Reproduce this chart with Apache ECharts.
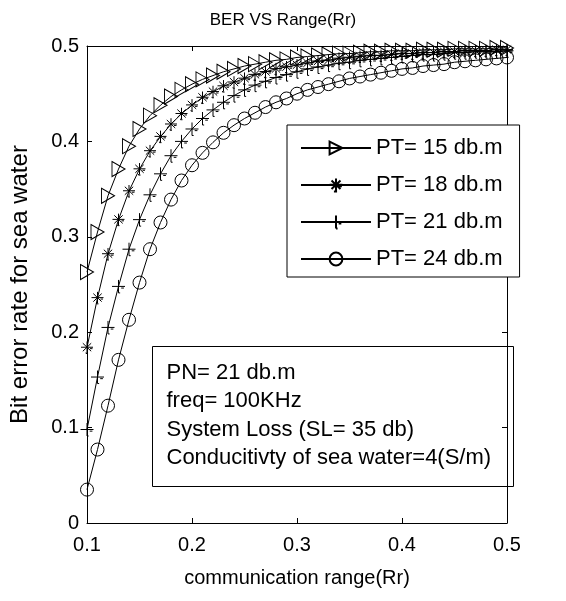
<!DOCTYPE html>
<html>
<head>
<meta charset="utf-8">
<script src="https://cdn.jsdelivr.net/npm/echarts@6/dist/echarts.min.js"></script>
<style>
html,body{margin:0;padding:0;background:#fff;}
#c{width:566px;height:601px;}
</style>
</head>
<body>
<div id="c"></div>
<script>
// ---- data ----
const ranges = [0.10,0.11,0.12,0.13,0.14,0.15,0.16,0.17,0.18,0.19,0.20,0.21,0.22,0.23,0.24,0.25,0.26,0.27,0.28,0.29,0.30,0.31,0.32,0.33,0.34,0.35,0.36,0.37,0.38,0.39,0.40,0.41,0.42,0.43,0.44,0.45,0.46,0.47,0.48,0.49,0.50];
const ber15 = [0.263,0.305,0.343,0.371,0.395,0.413,0.427,0.438,0.447,0.454,0.460,0.465,0.469,0.473,0.476,0.479,0.481,0.483,0.485,0.486,0.488,0.489,0.490,0.491,0.492,0.492,0.493,0.494,0.494,0.495,0.495,0.495,0.496,0.496,0.496,0.497,0.497,0.497,0.497,0.498,0.498];
const ber18 = [0.184,0.236,0.282,0.318,0.348,0.371,0.390,0.405,0.418,0.429,0.438,0.446,0.452,0.458,0.462,0.466,0.470,0.473,0.476,0.478,0.480,0.482,0.484,0.485,0.487,0.488,0.489,0.490,0.490,0.491,0.492,0.492,0.493,0.493,0.494,0.494,0.495,0.495,0.495,0.496,0.496];
const ber21 = [0.098,0.153,0.205,0.248,0.287,0.318,0.344,0.366,0.385,0.400,0.413,0.424,0.433,0.441,0.448,0.454,0.459,0.463,0.467,0.470,0.473,0.476,0.478,0.480,0.482,0.483,0.485,0.486,0.487,0.488,0.489,0.490,0.491,0.491,0.492,0.493,0.493,0.494,0.494,0.494,0.495];
const ber24 = [0.035,0.077,0.123,0.171,0.213,0.252,0.287,0.315,0.339,0.359,0.375,0.388,0.399,0.409,0.417,0.424,0.430,0.436,0.441,0.445,0.450,0.454,0.457,0.460,0.463,0.466,0.468,0.470,0.472,0.474,0.476,0.477,0.479,0.480,0.481,0.483,0.484,0.485,0.486,0.487,0.488];
const seriesNames = ['PT= 15 db.m','PT= 18 db.m','PT= 21 db.m','PT= 24 db.m'];
const xTicks = [0.1,0.2,0.3,0.4,0.5];
const yTicks = [0,0.1,0.2,0.3,0.4,0.5];
const noteLines = ['PN= 21 db.m','freq= 100KHz','System Loss (SL= 35 db)','Conducitivty of sea water=4(S/m)'];
const titleText = 'BER VS Range(Rr)';
const xLabel = 'communication range(Rr)';
const yLabel = 'Bit error rate for sea water';

// ---- chart ----
const FONT = 'Liberation Sans, Arial, Helvetica, sans-serif';
const symbols = [
  'path://M0,0L11,6.5L0,13Z',
  'path://M8,2L8,14M2,8L14,8M3.8,3.8L12.2,12.2M3.8,12.2L12.2,3.8M11,9.5L13.5,9.5M7,13.5L7,14.5L9,14.5',
  'path://M8,2L8,14M2,8L14,8M10.5,9.5L13,9.5M8,14L9.5,14',
  'circle'
];
const symSizes = [[13,15],[12,12],[13,13],[13,13]];
const allData = [ber15, ber18, ber21, ber24];

const chart = echarts.init(document.getElementById('c'), null, {renderer:'canvas'});
const fmt = v => String(+(+v).toFixed(1));
const commonAxis = {
  axisLine:{show:true,onZero:false,lineStyle:{color:'#000',width:1}},
  axisTick:{show:true,inside:true,length:5,lineStyle:{color:'#000'}},
  splitLine:{show:false}
};
const grid = {left:87, right:59, top:46, bottom:78};

chart.setOption({
  animation:false,
  backgroundColor:'#fff',
  title:{text:titleText,left:'center',top:7,
    textStyle:{fontFamily:FONT,fontSize:17,fontWeight:'normal',color:'#000'}},
  grid:grid,
  legend:{
    data:seriesNames,
    orient:'vertical',
    left:287, top:125,
    padding:[12,17,7,13],
    itemWidth:70, itemHeight:16, itemGap:15,
    borderColor:'#000', borderWidth:1,
    backgroundColor:'#fff',
    textStyle:{fontFamily:FONT,fontSize:22,lineHeight:22,color:'#000'}
  },
  xAxis:[
    Object.assign({type:'value',min:0.1,max:0.5,interval:0.1,position:'bottom',
      name:xLabel,nameLocation:'middle',nameGap:45,
      nameTextStyle:{fontFamily:FONT,fontSize:20,color:'#000'},
      axisLabel:{formatter:fmt,fontFamily:FONT,fontSize:20,color:'#000',margin:12}},commonAxis),
    Object.assign({type:'value',min:0.1,max:0.5,interval:0.1,position:'top',
      axisLabel:{show:false}},commonAxis)
  ],
  yAxis:[
    Object.assign({type:'value',min:0,max:0.5,interval:0.1,position:'left',
      name:yLabel,nameLocation:'middle',nameGap:55,
      nameTextStyle:{fontFamily:FONT,fontSize:24,color:'#000'},
      axisLabel:{formatter:fmt,fontFamily:FONT,fontSize:20,color:'#000',margin:8}},commonAxis),
    Object.assign({type:'value',min:0,max:0.5,interval:0.1,position:'right',
      axisLabel:{show:false}},commonAxis)
  ],
  series: allData.map((arr,i)=>({
    type:'line',
    name:seriesNames[i],
    data: ranges.map((x,j)=>[x,arr[j]]),
    symbol:symbols[i],
    symbolSize:symSizes[i],
    showAllSymbol:true,
    lineStyle:{color:'#000',width:1},
    itemStyle:{color:'none',borderColor:'#000',borderWidth:1},
    emphasis:{disabled:true},
    clip:false,
    z: 2+i
  })),
  graphic:[{
    type:'group', left:152, top:346,
    children:[
      {type:'rect',shape:{x:0,y:0,width:361,height:140},style:{fill:'#fff',stroke:'#000',lineWidth:1}},
    ].concat(noteLines.map((t,i)=>({
      type:'text', x:14, y:26+i*28.5,
      style:{text:t,fontFamily:FONT,fontSize:22,fill:'#000',verticalAlign:'middle'}
    })))
  }]
});
</script>
</body>
</html>
